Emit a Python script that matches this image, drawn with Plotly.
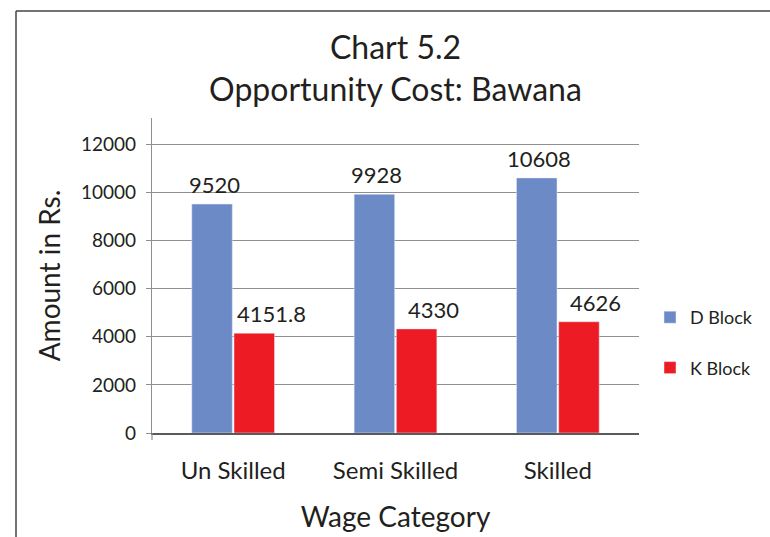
import plotly.graph_objects as go

categories = ["Un Skilled", "Semi Skilled", "Skilled"]
d_block = [9520, 9928, 10608]
k_block = [4151.8, 4330, 4626]
d_labels = ["9520", "9928", "10608"]
k_labels = ["4151.8", "4330", "4626"]
y_ticks = [0, 2000, 4000, 6000, 8000, 10000, 12000]
y_tick_text = ["0", "2000", "4000", "6000", "8000", "10000", "12000"]

W, H = 770, 537
L, R, T, B = 152, 131, 118, 104
plot_w = W - L - R
plot_h = H - T - B
cat_px = plot_w / len(categories)
BARGAP = 0.48
bar_px = cat_px * (1 - BARGAP) / 2
half = bar_px / 2

FONT = "Lato, 'Open Sans', sans-serif"
TXT = "#231f20"
BLUE = "#6b8ac6"
RED = "#ed1c24"

fig = go.Figure()
fig.add_trace(go.Bar(x=categories, y=d_block, name="D Block", marker=dict(color=BLUE),
                     legendgroup="d", hoverinfo="x+y"))
fig.add_trace(go.Bar(x=categories, y=k_block, name="K Block", marker=dict(color=RED),
                     legendgroup="k", hoverinfo="x+y"))

annotations = []
for c, v, t in zip(categories, d_block, d_labels):
    annotations.append(dict(x=c, y=v, text=t, showarrow=False, xref="x", yref="y",
                            yanchor="bottom", xanchor="center", xshift=-half + 2, yshift=4,
                            font=dict(size=22, color=TXT, family=FONT)))
for c, v, t in zip(categories, k_block, k_labels):
    annotations.append(dict(x=c, y=v, text=t, showarrow=False, xref="x", yref="y",
                            yanchor="bottom", xanchor="center", xshift=half + 17, yshift=4,
                            font=dict(size=22, color=TXT, family=FONT)))

# outer frame (top and left edges visible) and the y-axis stub below zero
fx0 = (16 - L) / plot_w
fy1 = (H - B - 11) / plot_h
shapes = [
    dict(type="line", xref="paper", yref="paper", x0=fx0, x1=1.4, y0=fy1, y1=fy1,
         line=dict(color="#444444", width=1.5)),
    dict(type="line", xref="paper", yref="paper", x0=fx0, x1=fx0, y0=fy1, y1=-0.5,
         line=dict(color="#444444", width=1.5)),
    dict(type="line", xref="paper", yref="paper", x0=0, x1=0, y0=0, y1=-7 / plot_h,
         line=dict(color="#8f8f8f", width=1.2)),
]

fig.update_layout(
    width=W, height=H,
    margin=dict(l=L, r=R, t=T, b=B, pad=0),
    paper_bgcolor="white", plot_bgcolor="white",
    barmode="group", bargap=BARGAP, bargroupgap=0.04,
    font=dict(family=FONT, color=TXT),
    title=dict(text="Chart 5.2<br>Opportunity Cost: Bawana", x=0.5, xref="paper",
               y=1 - 59 / H, yref="container", yanchor="top",
               font=dict(size=32, color=TXT, family=FONT)),
    legend=dict(x=650 / W, y=1 - 299 / H, xref="container", yref="container",
                xanchor="left", yanchor="top",
                font=dict(size=18, color=TXT, family=FONT), traceorder="grouped",
                tracegroupgap=24, bgcolor="rgba(0,0,0,0)"),
    annotations=annotations,
    shapes=shapes,
    xaxis=dict(showline=True, linecolor="#5a5a5a", linewidth=2, ticks="",
               showgrid=False, tickfont=dict(size=24, color=TXT, family=FONT),
               ticklabelstandoff=15, automargin=False,
               title=dict(text="Wage Category", font=dict(size=28, color=TXT, family=FONT),
                          standoff=25)),
    yaxis=dict(range=[0, 13100], tickvals=y_ticks, ticktext=y_tick_text, showgrid=True,
               gridcolor="#8f8f8f", gridwidth=1.2, showline=True, linecolor="#8f8f8f",
               linewidth=1.2, ticks="outside", ticklen=5, tickcolor="#8f8f8f", zeroline=False,
               tickfont=dict(size=19, color=TXT, family=FONT), ticklabelstandoff=6,
               automargin=False,
               title=dict(text="Amount in Rs.", font=dict(size=28, color=TXT, family=FONT),
                          standoff=12)),
)

fig.write_html("out.html", config={"displayModeBar": False},
               post_script="document.body.style.margin='0';")
